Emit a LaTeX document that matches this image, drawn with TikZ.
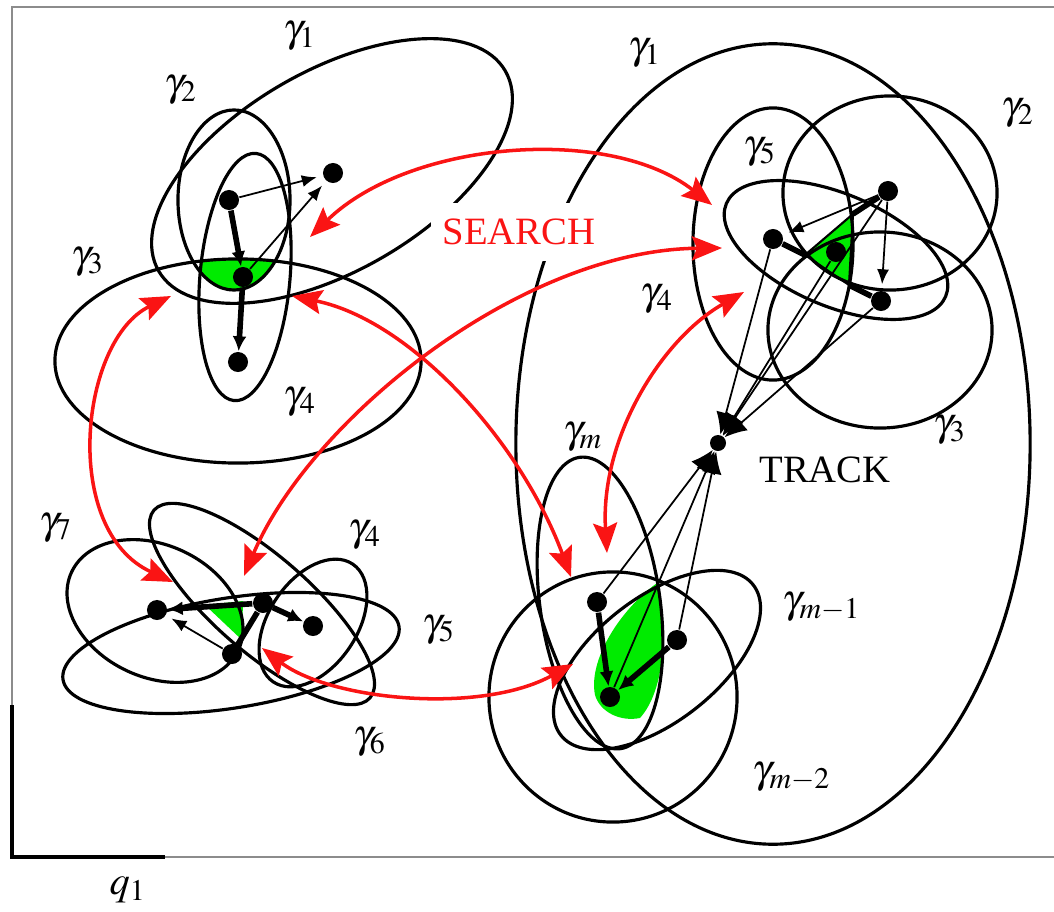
\documentclass[tikz,border=0pt]{standalone}
\usepackage{mathptmx}
\usepackage{fontspec}
\setmainfont{Liberation Serif}
\usetikzlibrary{arrows.meta}
\definecolor{srch}{RGB}{250,20,20}
\definecolor{leaf}{RGB}{0,235,0}
\begin{document}
\begin{tikzpicture}[x=0.01cm, y=-0.01cm,
  el/.style={line width=0.9pt},
  dot/.style={circle, fill=black, inner sep=0pt, minimum size=2mm},
  sm/.style={circle, fill=black, inner sep=0pt, minimum size=1.6mm},
  thn/.style={line width=0.5pt, -{Latex[length=1.5mm, width=1.2mm]}, shorten >=0.6mm},
  trk/.style={line width=0.5pt, -{Latex[length=2.2mm, width=2mm]}},
  thk/.style={line width=1.6pt, -{Latex[length=1.5mm, width=1.4mm]}},
  bar/.style={line width=1.6pt},
  rd/.style={srch, line width=1pt, {Stealth[length=3mm, width=2.4mm, inset=0.5mm]}-{Stealth[length=3mm, width=2.4mm, inset=0.5mm]}},
  gl/.style={font=\fontsize{11.5}{13}\selectfont},
  lbl/.style={font=\fontsize{11}{13}\selectfont}]
\useasboundingbox (0,0) rectangle (1054,912);
% frame
\draw[black!45, line width=0.8pt] (12,705) -- (12,7) -- (1054,7);
\draw[black!45, line width=0.8pt] (165,857) -- (1054,857);
\draw[line width=1.3pt] (12,705) -- (12,857) -- (165,857);
\node[gl] (q) at (128,890) {$q_1$};
% first cover, top left
\begin{scope}
  \clip (234,200) circle [x radius=0.56cm, y radius=0.9cm];
  \clip (238,361) circle [x radius=1.83cm, y radius=1.02cm];
  \fill[leaf] (245,277) circle [x radius=0.45cm, y radius=1.24cm, rotate=-5];
\end{scope}
\draw[el] (332,171) circle [x radius=2cm, y radius=1cm, rotate=30];
\draw[el] (234,200) circle [x radius=0.56cm, y radius=0.9cm];
\draw[el] (238,361) circle [x radius=1.83cm, y radius=1.02cm];
\draw[el] (245,277) circle [x radius=0.45cm, y radius=1.24cm, rotate=-5];
\node[dot] (n1) at (229,200) {};
\node[dot] (n2) at (333,173) {};
\node[dot] (n3) at (243,277) {};
\node[dot] (n4) at (238,362) {};
\draw[thn] (n1) -- (n2);
\draw[thn] (n3) -- (n2);
\draw[thk] (n1) -- (n3);
\draw[thk] (n3) -- (n4);
\node[gl] (a1) at (300,36) {$\gamma_1$};
\node[gl] (a2) at (181,90) {$\gamma_2$};
\node[gl] (a3) at (88,262) {$\gamma_3$};
\node[gl] (a4) at (300,402) {$\gamma_4$};
% second cover, top right
\coordinate (v1) at (853,214);
\coordinate (v2) at (805,255);
\coordinate (v3) at (849,285);
\fill[leaf, draw=black, line width=0.6pt] (v1) -- (v2) -- (v3) -- cycle;
\draw[el] (773,444) circle [x radius=2.57cm, y radius=4cm];
\draw[el] (890,193) circle [x radius=1.07cm, y radius=0.97cm];
\draw[el] (880,330) circle [x radius=1.12cm, y radius=0.98cm];
\draw[el] (836,250) circle [x radius=1.19cm, y radius=0.56cm, rotate=-23];
\draw[el] (773,244) circle [x radius=0.8cm, y radius=1.36cm];
\node[dot] (t1) at (888,191) {};
\node[dot] (t2) at (773,239) {};
\node[dot] (t3) at (836,252) {};
\node[dot] (t4) at (881,301) {};
\draw[thn] (t1) -- (t2);
\draw[thn] (t1) -- (t4);
\draw[bar] (t1) -- (v1);
\draw[bar] (t2) -- (v2);
\draw[bar] (t4) -- (v3);
\node[gl] (b1l) at (645,53) {$\gamma_1$};
\node[gl] (b5l) at (760,152) {$\gamma_5$};
\node[gl] (b2l) at (1018,113) {$\gamma_2$};
\node[gl] (b4l) at (657,299) {$\gamma_4$};
\node[gl] (b3l) at (950,430) {$\gamma_3$};
% third cover, bottom left
\fill[leaf] (205,605) -- (243,601) -- (242,640) -- cycle;
\draw[el] (155,611) circle [x radius=0.92cm, y radius=0.66cm, rotate=-25];
\draw[el] (262,604) circle [x radius=1.43cm, y radius=0.48cm, rotate=-41];
\draw[el] (231,653) circle [x radius=1.7cm, y radius=0.55cm, rotate=9];
\draw[el] (313,623) circle [x radius=0.71cm, y radius=0.44cm, rotate=56];
\node[dot] (c1) at (157,610) {};
\node[dot] (c2) at (263,603) {};
\node[dot] (c3) at (313,626) {};
\node[dot] (c4) at (232,654) {};
\draw[thk] (c2) -- (c1);
\draw[thn] (c4) -- (c1);
\draw[thk] (c2) -- (c3);
\draw[bar] (c4) -- (c2);
\node[gl] (c7l) at (56,528) {$\gamma_7$};
\node[gl] (c4l) at (365,535) {$\gamma_4$};
\node[gl] (c5l) at (439,630) {$\gamma_5$};
\node[gl] (c6l) at (370,742) {$\gamma_6$};
% last cover, bottom right
\fill[leaf] (657,583) .. controls (668,630) and (665,690) .. (640,718)
  .. controls (620,722) and (600,712) .. (595,695)
  .. controls (588,660) and (620,610) .. (657,583);
\draw[el] (600,603) circle [x radius=0.6cm, y radius=1.47cm, rotate=8];
\draw[el] (657,660) circle [x radius=1.22cm, y radius=0.62cm, rotate=38];
\draw[el] (613,697) circle [x radius=1.24cm, y radius=1.25cm];
\node[dot] (d1) at (597,602) {};
\node[dot] (d2) at (677,640) {};
\node[dot] (d3) at (610,697) {};
\draw[thk] (d1) -- (d3);
\draw[thk] (d2) -- (d3);
\node[gl] (dml) at (583,437) {$\gamma_m$};
\node[gl] (dm1l) at (822,607) {$\gamma_{m-1}$};
\node[gl] (dm2l) at (792,777) {$\gamma_{m-2}$};
% track
\node[sm] (k) at (718,443) {};
\foreach \s in {t1,t2,t3,t4,d1,d2,d3}
  \draw[trk] (\s) -- (k);
\node[lbl] (trklbl) at (825,470) {TRACK};
% search
\node[lbl, srch, fill=white, inner xsep=1.2mm, inner ysep=1.6mm] (srh) at (519,232) {SEARCH};
\coordinate (s1a) at (310,237);
\coordinate (s1b) at (712,205);
\coordinate (s2a) at (244,576);
\coordinate (s2b) at (722,248);
\coordinate (s3a) at (292,296);
\coordinate (s3b) at (571,577);
\coordinate (s4a) at (171,296);
\coordinate (s4b) at (173,582);
\coordinate (s5a) at (744,292);
\coordinate (s5b) at (607,553);
\coordinate (s6a) at (262,648);
\coordinate (s6b) at (573,664);
\draw[rd] (s1a) .. controls (410,140) and (610,125) .. (s1b);
\draw[rd] (s2a) .. controls (310,420) and (520,250) .. (s2b);
\draw[rd] (s3a) .. controls (410,320) and (520,440) .. (s3b);
\draw[rd] (s4a) .. controls (80,340) and (60,530) .. (s4b);
\draw[rd] (s5a) .. controls (660,340) and (600,440) .. (s5b);
\draw[rd] (s6a) .. controls (330,700) and (480,715) .. (s6b);
\end{tikzpicture}
\end{document}
